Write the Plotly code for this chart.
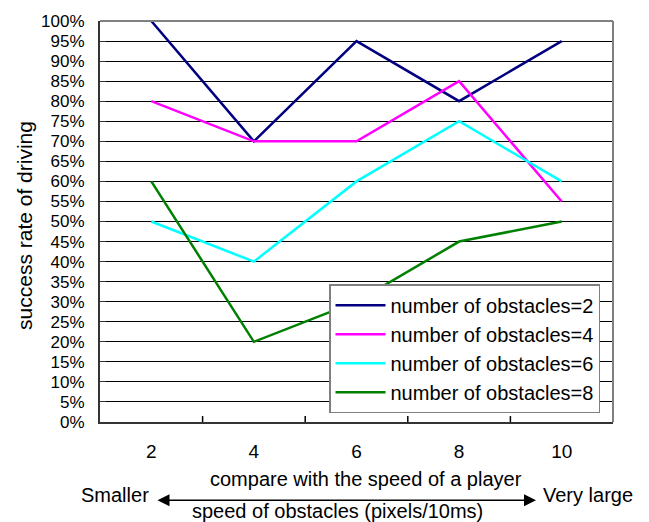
import plotly.graph_objects as go

# speed of obstacles (pixels/10ms)
speeds = [2, 4, 6, 8, 10]
speed_labels = ["2", "4", "6", "8", "10"]
# tick marks sit between neighbouring speed categories
speed_bounds = [3, 5, 7, 9]

# success rate of driving (%) per number of obstacles
obstacles_2 = [100, 70, 95, 80, 95]
obstacles_4 = [80, 70, 70, 85, 55]
obstacles_6 = [50, 40, 60, 75, 60]
obstacles_8 = [60, 20, 30, 45, 50]

series_names = [
    "number of obstacles=2",
    "number of obstacles=4",
    "number of obstacles=6",
    "number of obstacles=8",
]
series_colors = ["#000080", "#FF00FF", "#00FFFF", "#008000"]

y_ticks = list(range(0, 101, 5))
y_tick_text = [f"{v}%" for v in y_ticks]

W, H = 649, 522
L, R, T, B = 100, 36, 17, 100
PW, PH = W - L - R, H - T - B


def px_x(px):
    return (px - L) / PW


def px_y(py):
    return (H - B - py) / PH


fig = go.Figure()
for name, vals, col in zip(series_names,
                           [obstacles_2, obstacles_4, obstacles_6, obstacles_8],
                           series_colors):
    fig.add_trace(go.Scatter(
        x=speeds, y=vals, name=name, mode="lines",
        line=dict(color=col, width=2.5),
    ))

font_main = "Arial, Liberation Sans, sans-serif"

fig.update_layout(
    width=W, height=H,
    margin=dict(l=L, r=R, t=T, b=B, pad=0),
    paper_bgcolor="white",
    plot_bgcolor="white",
    font=dict(family=font_main, size=19, color="black"),
    showlegend=True,
    legend=dict(
        x=px_x(329), y=px_y(283), xanchor="left", yanchor="top",
        bgcolor="white", bordercolor="#808080", borderwidth=1.5,
        font=dict(family=font_main, size=20, color="black"),
        tracegroupgap=0, itemwidth=50,
    ),
    xaxis=dict(
        range=[1, 11],
        tickvals=speeds, ticktext=speed_labels,
        ticks="", showgrid=False, zeroline=False,
        showline=True, linecolor="#333", linewidth=2,
        tickfont=dict(family=font_main, size=19),
        ticklabelstandoff=11,
    ),
    yaxis=dict(
        range=[0, 100],
        tickvals=y_ticks, ticktext=y_tick_text,
        ticks="inside", ticklen=6, tickcolor="#333", tickwidth=1,
        showgrid=True, gridcolor="black", gridwidth=1,
        showline=True, linecolor="#333", linewidth=2,
        tickfont=dict(family=font_main, size=17),
        ticklabelstandoff=10,
        zeroline=False,
    ),
)

# short upward tick marks on the x axis between categories
for xb in speed_bounds:
    fig.add_shape(type="line", xref="x", yref="paper", x0=xb, x1=xb,
                  y0=0, y1=6 / PH, line=dict(color="black", width=1.5))

# gray plot-area frame (top and right edges)
fig.add_shape(type="line", xref="paper", yref="paper", x0=0, x1=1, y0=1, y1=1,
              line=dict(color="#808080", width=2))
fig.add_shape(type="line", xref="paper", yref="paper", x0=1, x1=1, y0=0, y1=1,
              line=dict(color="#808080", width=2))


def caption(text, x, y, xanchor="center", angle=0, size=20):
    fig.add_annotation(
        text=text, textangle=angle,
        xref="paper", yref="paper", x=px_x(x), y=px_y(y),
        xanchor=xanchor, yanchor="middle",
        showarrow=False, font=dict(family=font_main, size=size),
    )


# y-axis title
caption("success rate of driving", 25, 224, angle=-90, size=21)

# explanatory captions under the axis
caption("compare with the speed of a player", 366, 480)
caption("Smaller", 79, 496, xanchor="left")
caption("Very large", 541, 496, xanchor="left")
caption("speed of obstacles (pixels/10ms)", 337, 512)

# double-headed arrow
fig.add_annotation(
    text="", xref="paper", yref="paper", x=px_x(536), y=px_y(501),
    ax=-(536 - 156), ay=0, axref="pixel", ayref="pixel",
    showarrow=True, arrowside="end+start",
    arrowhead=2, startarrowhead=2, arrowsize=1.6, startarrowsize=1.6,
    arrowwidth=1.5, arrowcolor="black",
)

fig.write_html("out.html")
